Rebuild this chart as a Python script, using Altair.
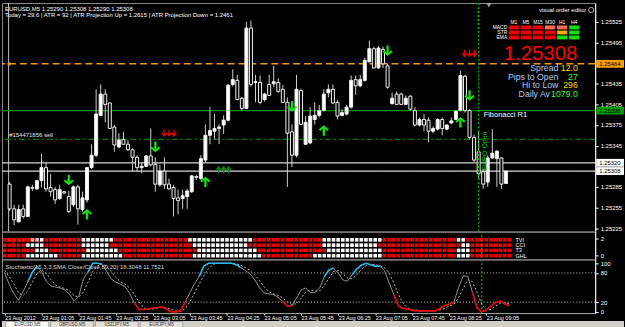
import altair as alt
import pandas as pd

FONT = "Liberation Sans"
PANEL_W = 597
X_DOMAIN = [-8.58, 119.5]
PRICE_DOMAIN = [1.2521994, 1.2555247]

# ---------------- candle data (5-minute bars, index 0 = 23 Aug 01:05) ----------------
bar_index = list(range(-8, 102))
open_ = [1.25289,1.25253,1.25234,1.25253,1.25242,1.25284,1.25282,1.25294,1.25313,1.25284,
         1.25281,1.25268,1.25278,1.25271,1.25259,1.25285,1.25252,1.25266,1.25313,1.25331,
         1.25389,1.25420,1.25407,1.25372,1.25343,1.25354,1.25347,1.25339,1.25328,1.25313,
         1.25315,1.25330,1.25318,1.25288,1.25308,1.25289,1.25284,1.25269,1.25268,1.25271,
         1.25278,1.25300,1.25297,1.25324,1.25360,1.25366,1.25370,1.25375,1.25382,1.25434,
         1.25440,1.25414,1.25399,1.25516,1.25437,1.25437,1.25412,1.25434,1.25435,1.25437,
         1.25427,1.25408,1.25365,1.25331,1.25425,1.25347,1.25349,1.25383,1.25389,1.25396,
         1.25422,1.25427,1.25408,1.25389,1.25391,1.25401,1.25441,1.25432,1.25440,1.25467,
         1.25486,1.25458,1.25485,1.25461,1.25406,1.25420,1.25420,1.25405,1.25417,1.25396,
         1.25375,1.25383,1.25382,1.25366,1.25369,1.25383,1.25369,1.25378,1.25383,1.25396,
         1.25446,1.25396,1.25357,1.25336,1.25307,1.25292,1.25327,1.25326,1.25327,1.25290]
high_ = [1.25292,1.25259,1.25259,1.25259,1.25287,1.25288,1.25295,1.25333,1.25321,1.25304,
         1.25285,1.25288,1.25279,1.25279,1.25287,1.25288,1.25278,1.25314,1.25347,1.25427,
         1.25434,1.25427,1.25408,1.25375,1.25363,1.25365,1.25353,1.25341,1.25331,1.25320,
         1.25331,1.25370,1.25328,1.25317,1.25328,1.25297,1.25288,1.25281,1.25281,1.25282,
         1.25302,1.25302,1.25331,1.25376,1.25401,1.25391,1.25376,1.25389,1.25434,1.25456,
         1.25448,1.25416,1.25525,1.25527,1.25448,1.25447,1.25422,1.25448,1.25461,1.25443,
         1.25433,1.25415,1.25376,1.25448,1.25428,1.25388,1.25401,1.25408,1.25404,1.25427,
         1.25434,1.25434,1.25411,1.25398,1.25404,1.25447,1.25447,1.25448,1.25473,1.25498,
         1.25489,1.25490,1.25489,1.25464,1.25422,1.25424,1.25422,1.25418,1.25418,1.25401,
         1.25386,1.25391,1.25386,1.25373,1.25385,1.25386,1.25376,1.25386,1.25396,1.25454,
         1.25448,1.25398,1.25361,1.25365,1.25311,1.25331,1.25369,1.25338,1.25328,1.25308]
low_ = [1.25250,1.25229,1.25234,1.25239,1.25242,1.25279,1.25281,1.25284,1.25278,1.25271,
        1.25260,1.25266,1.25275,1.25247,1.25256,1.25230,1.25249,1.25262,1.25311,1.25328,
        1.25388,1.25379,1.25369,1.25336,1.25341,1.25346,1.25337,1.25307,1.25307,1.25305,
        1.25314,1.25315,1.25278,1.25285,1.25282,1.25281,1.25242,1.25245,1.25253,1.25253,
        1.25276,1.25295,1.25295,1.25321,1.25347,1.25354,1.25347,1.25362,1.25380,1.25431,
        1.25411,1.25396,1.25398,1.25431,1.25408,1.25405,1.25409,1.25417,1.25430,1.25422,
        1.25407,1.25285,1.25314,1.25328,1.25375,1.25346,1.25347,1.25376,1.25386,1.25395,
        1.25415,1.25405,1.25383,1.25388,1.25389,1.25399,1.25419,1.25430,1.25438,1.25466,
        1.25457,1.25457,1.25458,1.25428,1.25405,1.25404,1.25404,1.25404,1.25396,1.25373,
        1.25373,1.25366,1.25350,1.25363,1.25367,1.25360,1.25367,1.25376,1.25382,1.25395,
        1.25393,1.25354,1.25321,1.25295,1.25282,1.25285,1.25326,1.25285,1.25282,1.25290]
close_ = [1.25253,1.25237,1.25252,1.25242,1.25285,1.25283,1.25294,1.25313,1.25282,1.25278,
          1.25266,1.25281,1.25276,1.25249,1.25285,1.25253,1.25269,1.25313,1.25331,1.25391,
          1.25420,1.25405,1.25370,1.25346,1.25353,1.25347,1.25339,1.25328,1.25313,1.25315,
          1.25330,1.25317,1.25289,1.25308,1.25288,1.25282,1.25268,1.25265,1.25272,1.25279,
          1.25301,1.25299,1.25326,1.25360,1.25367,1.25370,1.25372,1.25382,1.25433,1.25441,
          1.25412,1.25399,1.25516,1.25434,1.25438,1.25408,1.25420,1.25418,1.25438,1.25424,
          1.25408,1.25363,1.25331,1.25427,1.25376,1.25379,1.25388,1.25389,1.25396,1.25420,
          1.25427,1.25407,1.25388,1.25393,1.25401,1.25440,1.25432,1.25441,1.25469,1.25486,
          1.25458,1.25487,1.25464,1.25430,1.25414,1.25405,1.25405,1.25414,1.25398,1.25375,
          1.25383,1.25375,1.25366,1.25370,1.25383,1.25370,1.25375,1.25381,1.25395,1.25447,
          1.25396,1.25357,1.25324,1.25304,1.25289,1.25327,1.25334,1.25337,1.25289,1.25308]

price_axis_values = [1.25525, 1.25495, 1.25435, 1.25405, 1.25375, 1.25345, 1.25285, 1.25255, 1.25225]
time_tick_values = [-8, 0, 8, 16, 24, 32, 40, 48, 56, 64, 72, 80, 88, 96]
time_tick_labels = ["23 Aug 2012", "23 Aug 01:05", "23 Aug 01:45", "23 Aug 02:25", "23 Aug 03:05",
                    "23 Aug 03:45", "23 Aug 04:25", "23 Aug 05:05", "23 Aug 05:45", "23 Aug 06:25",
                    "23 Aug 07:05", "23 Aug 07:45", "23 Aug 08:25", "23 Aug 09:05"]

# horizontal levels
hline_price = [1.25464, 1.25396, 1.25354, 1.25320, 1.25308]
hline_color = ["#f09a10", "#008c00", "#007f0a", "#d6d6d6", "#d6d6d6"]
hline_style = ["dash", "solid", "dashdot", "solid", "solid"]

# price tags on the axis
tag_price = [1.25464, 1.25396, 1.25320, 1.25308]
tag_text = ["1.25464", "1.25396", "1.25320", "1.25308"]
tag_fill = ["#f5a000", "#009a00", "#ffffff", "#ffffff"]

# signal arrows
arrow_i = [5, 9, 24, 27, 35, 39, 54, 61, 75, 91, 93, 93]
arrow_price = [1.25295, 1.25245, 1.25343, 1.25363, 1.25292, 1.25310, 1.25402, 1.25367,
               1.25483, 1.25379, 1.25418, 1.25479]
arrow_kind = ["down", "up", "down", "sell3", "up", "buy3", "down", "up", "down", "up", "down", "sell3"]

# multi-timeframe matrix
mtf_frames = ["M1", "M5", "M15", "M30", "H1", "H4"]
mtf_rows = ["MACD", "STR", "EMA"]
mtf_macd = ["#f00000", "#f00000", "#f00000", "#ff6a50", "#ff6a50", "#10e010"]
mtf_str = ["#f00000", "#f00000", "#f00000", "#f00000", "#ffaa00", "#10e010"]
mtf_ema = ["#f00000", "#f00000", "#f00000", "#f00000", "#10e010", "#10e010"]

info_labels = ["Spread", "Pips to Open", "Hi to Low", "Daily Av"]
info_values = ["12.0", "27", "296", "1079.0"]
info_value_colors = ["#ffd800", "#33ff33", "#ffd800", "#33ff33"]

# signal matrix (runs of red / white squares, left to right)
dot_rows = ["TVI", "CCI", "T3", "GHL"]
dot_levels = [2.09, 1.39, 0.70, 0.0]
tvi_runs = [("r", 6), ("w", 3), ("r", 8), ("w", 7), ("r", 16), ("w", 14), ("r", 15), ("w", 13), ("r", 16), ("w", 2), ("r", 10)]
cci_runs = [("r", 5), ("w", 4), ("r", 8), ("w", 6), ("r", 18), ("w", 12), ("r", 16), ("w", 12), ("r", 18), ("w", 2), ("r", 9)]
t3_runs = [("r", 7), ("w", 3), ("r", 8), ("w", 7), ("r", 17), ("w", 13), ("r", 15), ("w", 12), ("r", 16), ("w", 3), ("r", 9)]
ghl_runs = [("r", 5), ("w", 7), ("r", 5), ("w", 9), ("r", 15), ("w", 15), ("r", 11), ("w", 15), ("r", 16), ("w", 3), ("r", 9)]

# stochastic
stoch_main = [80,56,37,24,42,62,82,94,82,62,
              53,51,49,45,36,22,32,68,82,100,
              100,98,84,68,61,57,52,38,18,5,
              5,6,8,9,10,5,0,0,2,20,
              40,58,73,94,100,100,100,100,100,100,
              97,91,85,78,66,50,39,37,36,30,
              22,12,12,28,45,49,40,40,49,72,
              86,90,80,66,63,76,88,96,100,97,
              94,94,85,60,36,12,7,6,3,2,
              2,2,2,2,7,13,16,20,50,74,
              73,40,8,0,4,12,20,22,16,13]
stoch_signal = [85,72,57,39,34,43,62,79,86,79,
                66,55,51,48,43,34,30,41,61,83,
                94,99,94,83,71,62,57,49,36,20,
                9,5,6,8,9,8,5,2,1,7,
                21,39,57,75,89,98,100,100,100,100,
                99,96,91,85,76,65,52,42,37,34,
                29,21,15,17,28,41,45,43,43,54,
                69,83,85,79,70,68,76,87,95,98,
                97,95,91,80,60,36,18,8,5,4,
                2,2,2,2,4,7,12,16,29,48,
                66,62,40,16,4,5,12,18,19,17]
blue_ranges = [(-3, -1), (10, 13), (34, 43), (61, 63), (67, 73)]
red_ranges = [(20, 31), (52, 54), (76, 89), (93, 101)]
stoch_levels = [80, 20]

# ---------------- shapes ----------------
DOWN = "M-0.22,-1L0.22,-1L0.22,0.35L0.68,-0.1L0.98,0.2L0,1.02L-0.98,0.2L-0.68,-0.1L-0.22,0.35Z"
UP = "M-0.22,1L0.22,1L0.22,-0.35L0.68,0.1L0.98,-0.2L0,-1.02L-0.98,-0.2L-0.68,0.1L-0.22,-0.35Z"


def triple(sign):
    parts = []
    for cx in (-0.66, 0.0, 0.66):
        pts = [(cx - 0.08, -0.5), (cx + 0.08, -0.5), (cx + 0.08, 0.05), (cx + 0.26, -0.12),
               (cx + 0.33, 0.04), (cx, 0.5), (cx - 0.33, 0.04), (cx - 0.26, -0.12), (cx - 0.08, 0.05)]
        parts.append("M" + "L".join(f"{x:.2f},{sign * y:.2f}" for x, y in pts) + "Z")
    return "".join(parts)


TRIPLE_DOWN = triple(1)
TRIPLE_UP = triple(-1)


def xq(axis=None):
    return alt.X("i:Q", scale=alt.Scale(domain=X_DOMAIN, nice=False, zero=False), axis=axis)


def hud_text(text, x, y, size, color, align="left", baseline="middle", **kw):
    return alt.Chart(pd.DataFrame({"t": [text]})).mark_text(
        text=text, x=x, y=y, fontSize=size, color=color, align=align,
        baseline=baseline, font=FONT, **kw)


# ---------------- main panel ----------------
price_scale = alt.Scale(domain=PRICE_DOMAIN, nice=False, zero=False)
price_axis = alt.Axis(orient="right", values=price_axis_values, format=".5f", title=None, grid=False,
                      labelFont=FONT, labelFontSize=6, labelColor="#ffffff", labelPadding=2,
                      tickColor="#ffffff", tickSize=3, domainColor="#ffffff",
                      labelOverlap=False, labelFlush=False, labelBound=False)


def py(field):
    return alt.Y(field, scale=price_scale, axis=price_axis)


candles = pd.DataFrame(dict(i=bar_index, o=open_, h=high_, l=low_, c=close_))
wicks = alt.Chart(candles).mark_rule(color="#cfcfcf", strokeWidth=1).encode(
    x=xq(), y=py("l:Q"), y2="h:Q")
bodies = alt.Chart(candles).mark_bar(size=3, stroke="#f0f0f0", strokeWidth=1).encode(
    x=xq(), y=py("o:Q"), y2="c:Q",
    fill=alt.condition("datum.c > datum.o", alt.value("#ffffff"), alt.value("#000000")))

hl = pd.DataFrame(dict(p=hline_price, col=hline_color, style=hline_style))


def hline_layer(style, dash, width):
    return alt.Chart(hl).transform_filter(f"datum.style == '{style}'").mark_rule(
        strokeDash=dash, strokeWidth=width).encode(
        y=py("p:Q"), color=alt.Color("col:N", scale=None))


lines = [hline_layer("dash", [7, 4], 1.5), hline_layer("solid", [1, 0], 1.2),
         hline_layer("dashdot", [6, 3, 2, 3], 1.2)]

tags = pd.DataFrame(dict(p=tag_price, t=tag_text, fill=tag_fill))
tag_rect = alt.Chart(tags).transform_calculate(
    p0="datum.p - 0.000057", p1="datum.p + 0.000057").mark_rect().encode(
    x=alt.value(598), x2=alt.value(626), y=py("p0:Q"), y2="p1:Q",
    color=alt.Color("fill:N", scale=None))
tag_txt = alt.Chart(tags).mark_text(align="left", baseline="middle", font=FONT, fontSize=6,
                                    color="#000000").encode(
    x=alt.value(601), y=py("p:Q"), text="t:N")

arrows = pd.DataFrame(dict(i=arrow_i, p=arrow_price, kind=arrow_kind))


def arrow_layer(kind, shape, size, color):
    return alt.Chart(arrows).transform_filter(f"datum.kind == '{kind}'").mark_point(
        shape=shape, size=size, filled=True, color=color, opacity=1, strokeWidth=0).encode(
        x=xq(), y=py("p:Q"))


arrow_layers = [arrow_layer("down", DOWN, 110, "#12e012"), arrow_layer("up", UP, 110, "#12e012"),
                arrow_layer("sell3", TRIPLE_DOWN, 240, "#ee0000"),
                arrow_layer("buy3", TRIPLE_UP, 240, "#0a8a0a")]

euro = pd.DataFrame({"i": [95]})
left_sep = pd.DataFrame({"i": [-8.22]})
euro_rule_main = alt.Chart(euro).mark_rule(color="#00b000", strokeDash=[2, 2], strokeWidth=1.4).encode(x=xq())
left_rule = alt.Chart(left_sep).mark_rule(color="#bdbdbd", strokeWidth=1).encode(x=xq())

notes_order = alt.Chart(pd.DataFrame(dict(i=[-8.1], p=[1.25361], t=["#154471856 sell"]))).mark_text(
    align="left", baseline="middle", font=FONT, fontSize=6, color="#e8e8e8").encode(
    x=xq(), y=py("p:Q"), text="t:N")
notes_fib = alt.Chart(pd.DataFrame(dict(i=[96.1], p=[1.25390], t=["Fibonacci R1"]))).mark_text(
    align="left", baseline="middle", font=FONT, fontSize=7.5, color="#ffffff").encode(
    x=xq(), y=py("p:Q"), text="t:N")
notes_euro = alt.Chart(pd.DataFrame(dict(i=[96.5], p=[1.25337], t=["EURO Open"]))).mark_text(
    align="center", baseline="middle", font=FONT, fontSize=7, color="#10c010", angle=270).encode(
    x=xq(), y=py("p:Q"), text="t:N")
orange_marker = alt.Chart(pd.DataFrame(dict(i=[-8.1], p=[1.25464]))).mark_square(
    size=9, color="#f09a10", opacity=1).encode(x=xq(), y=py("p:Q"))

core = alt.layer(left_rule, *lines, wicks, bodies, euro_rule_main, *arrow_layers,
                 notes_order, notes_fib, notes_euro, orange_marker, tag_rect, tag_txt)

# HUD (screen-fixed) layers
mtf_rows_df = []
for r, cols in zip(mtf_rows, [mtf_macd, mtf_str, mtf_ema]):
    for tf, col in zip(mtf_frames, cols):
        mtf_rows_df.append(dict(tf=tf, ind=r, col=col))
mtf = pd.DataFrame(mtf_rows_df)
tf_scale = alt.Scale(domain=mtf_frames, range=[510, 581], paddingInner=0.16, paddingOuter=0)
ind_scale = alt.Scale(domain=mtf_rows, range=[22.6, 36.6], paddingInner=0.22, paddingOuter=0)
mtf_cells = alt.Chart(mtf).mark_rect().encode(
    x=alt.X("tf:N", scale=tf_scale, axis=None), y=alt.Y("ind:N", scale=ind_scale, axis=None),
    color=alt.Color("col:N", scale=None))
mtf_head = alt.Chart(pd.DataFrame({"tf": mtf_frames})).mark_text(
    font=FONT, fontSize=5, color="#ffffff", baseline="middle").encode(
    x=alt.X("tf:N", scale=tf_scale, axis=None), y=alt.value(19.5), text="tf:N")
mtf_lab = alt.Chart(pd.DataFrame({"ind": mtf_rows})).mark_text(
    font=FONT, fontSize=5, color="#ffffff", align="right", baseline="middle").encode(
    x=alt.value(508.5), y=alt.Y("ind:N", scale=ind_scale, axis=None), text="ind:N")

hud_items = [
    hud_text("EURUSD,M5  1.25290 1.25308 1.25290 1.25308", 3, 6, 6, "#ffffff"),
    hud_text("Today = 29.6   |   ATR = 92   |   ATR Projection Up = 1.2615   |   ATR Projection Down = 1.2461",
             3, 12, 6, "#ffffff"),
    hud_text("visual order editor", 588, 7, 6, "#ffffff", align="right"),
    hud_text("1.25308", 579, 57, 20.5, "#ff0000", align="right", baseline="alphabetic"),
]
info_y = [65.8, 74.4, 83.0, 91.6]
info_label_x = [560, 560, 560, 551.5]
for lab, val, vc, yy, lx in zip(info_labels, info_values, info_value_colors, info_y, info_label_x):
    hud_items.append(hud_text(lab, lx, yy, 8.8, "#b4c8ec", align="right"))
    hud_items.append(hud_text(val, 579.5, yy, 8.8, vc, align="right"))

icon = alt.Chart(pd.DataFrame({"a": [0]})).mark_point(
    shape="circle", size=28, x=593, y=7, color="#ffffff", filled=False, strokeWidth=1)
shift_mark = alt.Chart(pd.DataFrame({"a": [0]})).mark_point(
    shape="triangle-down", size=22, x=490, y=2.5, color="#e0e0e0", filled=True)

hud = alt.layer(mtf_cells, mtf_head, mtf_lab, *hud_items, icon, shift_mark)

main_panel = alt.layer(core, hud).resolve_scale(x="independent", y="independent").properties(
    width=PANEL_W, height=230)

# ---------------- signal-matrix panel ----------------
def expand(runs):
    out = []
    for c, n in runs:
        out.extend([c] * n)
    return out


dot_records = []
for name, lvl, runs in zip(dot_rows, dot_levels, [tvi_runs, cci_runs, t3_runs, ghl_runs]):
    for i, c in zip(bar_index, expand(runs)):
        dot_records.append(dict(i=i, lvl=lvl, col="#ffffff" if c == "w" else "#ee0000"))
dots = pd.DataFrame(dot_records)
dot_scale = alt.Scale(domain=[-0.4835, 3.176], nice=False, zero=False)
dot_axis = alt.Axis(orient="right", values=[2.3, 0], format="~g", title=None, grid=False,
                    labelFont=FONT, labelFontSize=6, labelColor="#ffffff", labelPadding=2,
                    tickColor="#ffffff", tickSize=3, domainColor="#ffffff",
                    labelOverlap=False, labelFlush=False, labelBound=False)
dot_marks = alt.Chart(dots).mark_square(size=13, opacity=1).encode(
    x=xq(), y=alt.Y("lvl:Q", scale=dot_scale, axis=dot_axis), color=alt.Color("col:N", scale=None))
dot_labels = alt.Chart(pd.DataFrame(dict(i=[102.3] * 4, lvl=dot_levels, t=dot_rows))).mark_text(
    align="left", baseline="middle", font=FONT, fontSize=5.5, color="#ffffff").encode(
    x=xq(), y=alt.Y("lvl:Q", scale=dot_scale, axis=dot_axis), text="t:N")
euro_rule_dots = alt.Chart(euro).mark_rule(color="#00b000", strokeDash=[2, 2], strokeWidth=1.4).encode(x=xq())
dot_title = hud_text("Signals (M5)", 4, 8, 6, "#ff2020")
dots_panel = alt.layer(dot_marks, euro_rule_dots, dot_labels, dot_title).properties(width=PANEL_W, height=28)

# ---------------- stochastic panel ----------------
label_expr = "[" + ",".join(f"'{s}'" for s in time_tick_labels) + "][(datum.value + 8) / 8]"
time_axis = alt.Axis(orient="bottom", values=time_tick_values, labelExpr=label_expr, title=None, grid=False,
                     labelFont=FONT, labelFontSize=5.5, labelColor="#ffffff", labelAlign="left",
                     labelBaseline="top", labelPadding=0, tickSize=2, tickColor="#ffffff",
                     domainColor="#a0a0a0", labelOverlap=False, labelFlush=False, labelBound=False)
st_scale = alt.Scale(domain=[-2.45, 108], nice=False, zero=False)
st_axis = alt.Axis(orient="right", values=[100, 80, 20, 0], format="d", title=None, grid=False,
                   labelFont=FONT, labelFontSize=6, labelColor="#ffffff", labelPadding=2,
                   tickColor="#ffffff", tickSize=3, domainColor="#ffffff",
                   labelOverlap=False, labelFlush=False, labelBound=False)


def sx():
    return xq(time_axis)


def sy(field):
    return alt.Y(field, scale=st_scale, axis=st_axis)


st = pd.DataFrame(dict(i=bar_index, main=stoch_main, sig=stoch_signal))
seg_rows = []
for n, (a, b) in enumerate(blue_ranges):
    for i in range(a, b + 1):
        seg_rows.append(dict(i=i, v=stoch_main[i + 8], seg=f"b{n}", col="#22b8f0"))
for n, (a, b) in enumerate(red_ranges):
    for i in range(a, b + 1):
        seg_rows.append(dict(i=i, v=stoch_main[i + 8], seg=f"r{n}", col="#f00000"))
segs = pd.DataFrame(seg_rows)

levels = alt.Chart(pd.DataFrame({"lv": stoch_levels})).mark_rule(
    color="#c8c8c8", strokeDash=[1, 2], strokeWidth=1).encode(y=sy("lv:Q"))
sig_line = alt.Chart(st).mark_line(color="#b8b8b8", strokeDash=[2, 2], strokeWidth=1).encode(
    x=sx(), y=sy("sig:Q"))
main_line = alt.Chart(st).mark_line(color="#909090", strokeWidth=1).encode(x=sx(), y=sy("main:Q"))
seg_line = alt.Chart(segs).mark_line(strokeWidth=1.6).encode(
    x=sx(), y=sy("v:Q"), detail="seg:N", color=alt.Color("col:N", scale=None))
euro_rule_st = alt.Chart(euro).mark_rule(color="#00b000", strokeDash=[2, 2], strokeWidth=1.4).encode(x=sx())
st_title = hud_text("Stochastic(15,3,3,SMA,Close/Close,80,20) 18.3048 11.7521", 3.5, 8, 6, "#d8d8d8")
stoch_panel = alt.layer(levels, euro_rule_st, sig_line, main_line, seg_line, st_title).properties(
    width=PANEL_W, height=54)

# ---------------- terminal tab strip ----------------
tab_names = ["EURUSD,M5", "GBPUSD,M5", "USDJPY,M5", "EURJPY,M5"]
tab_items = [alt.Chart(pd.DataFrame({"a": [0]})).mark_rect(
    x=0, x2=626, y=8, y2=15, color="#d4d0c8")]
for n, name in enumerate(tab_names):
    x0 = 4 + 45 * n
    tab_items.append(alt.Chart(pd.DataFrame({"a": [0]})).mark_rect(
        x=x0, x2=x0 + 43, y=8.5, y2=15, color="#ffffff" if n == 0 else "#e4e1da",
        stroke="#808080", strokeWidth=0.6))
    tab_items.append(hud_text(name, x0 + 21.5, 12, 4.5, "#303030", align="center"))
tabs_panel = alt.layer(*tab_items).properties(width=PANEL_W, height=15,
                                              view=alt.ViewBackground(stroke="transparent"))

chart = alt.vconcat(main_panel, dots_panel, stoch_panel, tabs_panel, spacing=0, bounds="flush").properties(
    padding=0, background="#000000").configure_view(stroke="#8c8c8c", strokeWidth=1)

chart.save("out.html", embed_options={"renderer": "svg", "actions": False})
